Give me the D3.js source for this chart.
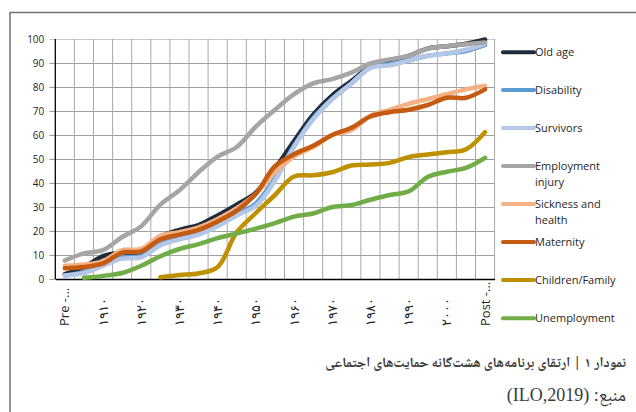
<!DOCTYPE html>
<html>
<head>
<meta charset="utf-8">
<script src="https://cdn.jsdelivr.net/npm/d3@7"></script>
<style>
  body { margin: 0; background: #fff; }
  .axisText { font-family: "Open Sans", "DejaVu Sans", sans-serif; fill: #262626; }
  .caption { font-family: "Noto Naskh Arabic", "Noto Sans Arabic", "DejaVu Sans", sans-serif; fill: #3a3a3a; }
</style>
</head>
<body>
<div class="chart"></div>
<script>
// categories (every second one is labelled on the axis)
var categories = ["Pre -...", "۱۹۰۵", "۱۹۱۰", "۱۹۱۵", "۱۹۲۰", "۱۹۲۵", "۱۹۳۰", "۱۹۳۵", "۱۹۴۰", "۱۹۴۵",
  "۱۹۵۰", "۱۹۵۵", "۱۹۶۰", "۱۹۶۵", "۱۹۷۰", "۱۹۷۵", "۱۹۸۰", "۱۹۸۵", "۱۹۹۰", "۱۹۹۵", "۲۰۰۰", "۲۰۰۵", "Post -..."];
var yTicks = [0, 10, 20, 30, 40, 50, 60, 70, 80, 90, 100];

var seriesNames = ["Old age", "Disability", "Survivors", "Employment injury",
  "Sickness and health", "Maternity", "Children/Family", "Unemployment"];
var seriesColors = ["#1f2b3a", "#5b9bd5", "#b4c7e7", "#a5a5a5", "#f4b183", "#c55a11", "#bf9000", "#70ad47"];

var oldAge       = [2, 5, 9.5, 11, 11, 17.5, 20.5, 22.5, 26.5, 31, 36, 46, 57.5, 68.5, 76.5, 82.5, 88.5, 91, 93, 96, 97, 98, 99.8];
var disability   = [1.5, 3, 6.5, 9, 9.5, 14.5, 17, 19, 22.5, 27, 31.5, 42, 55.5, 67, 75, 81.5, 88, 89.5, 91, 93, 94, 95, 97.5];
var survivors    = [1.5, 2.5, 5.5, 8.5, 9, 14, 16.5, 18.5, 22, 26.5, 30.5, 41, 55, 66.5, 75, 81.5, 88, 89, 91, 93, 94, 95.5, 98];
var employment   = [7.7, 10.7, 12, 17.5, 22, 31, 37, 44.5, 51, 55, 63.5, 70.5, 77, 81.5, 83.3, 86, 89.8, 91.5, 93, 96, 97, 97.8, 98.5];
var sickness     = [5.5, 6, 7.5, 12, 12.5, 18, 19.5, 21.5, 25, 29.5, 35.5, 44.5, 51, 55, 60, 62, 68, 70.5, 73, 75, 77, 79, 80.5];
var maternity    = [4.5, 5, 6.5, 11, 11.5, 16.5, 18.5, 20.5, 24, 28.5, 35.5, 47, 52, 55.5, 60, 63, 67.7, 69.5, 70.5, 72.5, 75.5, 75.5, 79];
var children     = [null, null, null, null, null, 0.7, 1.7, 2.3, 5, 19.5, 27.5, 35, 42.7, 43.2, 44.5, 47.3, 47.7, 48.4, 50.8, 51.9, 52.8, 54, 61.2];
var unemployment = [null, 0.5, 1.3, 2.5, 5.5, 9.5, 12.5, 14.5, 17, 19, 21, 23.3, 26, 27.3, 30, 30.8, 33, 35, 36.5, 42.5, 44.7, 46.3, 50.5];

var seriesValues = [oldAge, disability, survivors, employment, sickness, maternity, children, unemployment];

var svgWidth = 636;
var svgHeight = 412;
var plot = { left: 55.3, right: 494.6, top: 39, bottom: 279 };

var svg = d3.select(".chart")
  .append("svg")
  .attr("width", svgWidth)
  .attr("height", svgHeight);

// outer frame (only top and left edges fall inside the picture)
svg.append("path")
  .attr("d", "M10,412 V12.5 H636")
  .attr("fill", "none")
  .attr("stroke", "#707070")
  .attr("stroke-width", 1.5);

var xScale = d3.scaleBand()
  .domain(categories)
  .range([plot.left, plot.right])
  .padding(0);

var yScale = d3.scaleLinear()
  .domain([0, 100])
  .range([plot.bottom, plot.top]);

var xMid = c => xScale(c) + xScale.bandwidth() / 2;

// horizontal gridlines + y labels
var leftAxis = d3.axisLeft(yScale)
  .tickValues(yTicks)
  .tickSize(-(plot.right - plot.left + 6))
  .tickPadding(5);

var yAxisG = svg.append("g")
  .attr("transform", `translate(${plot.left - 6},0)`)
  .call(leftAxis);
yAxisG.select(".domain").remove();
yAxisG.selectAll("line")
  .attr("stroke", d => d === 100 ? "#c8c8c8" : "#a0a0a0");
yAxisG.selectAll("text")
  .attr("class", "axisText")
  .style("font-size", "10px");

// vertical gridlines between categories
svg.append("g")
  .selectAll("line")
  .data(categories)
  .enter()
  .append("line")
  .attr("x1", d => xScale(d) + xScale.bandwidth())
  .attr("x2", d => xScale(d) + xScale.bandwidth())
  .attr("y1", plot.top)
  .attr("y2", plot.bottom)
  .attr("stroke", "#a8a8a8")
  .attr("stroke-width", 1);

// axis lines
svg.append("line")
  .attr("x1", plot.left).attr("x2", plot.left)
  .attr("y1", plot.top).attr("y2", plot.bottom)
  .attr("stroke", "#000").attr("stroke-width", 1.3);

var bottomAxis = d3.axisBottom(xScale)
  .tickSize(0)
  .tickFormat((d, i) => i % 2 === 0 ? d : "");

var xAxisG = svg.append("g")
  .attr("transform", `translate(0,${plot.bottom})`)
  .call(bottomAxis);
xAxisG.select(".domain")
  .attr("stroke", "#000")
  .attr("stroke-width", 1.3);
xAxisG.selectAll("text")
  .attr("class", "axisText")
  .style("font-size", "13px")
  .attr("transform", "rotate(-90)")
  .attr("text-anchor", "start")
  .attr("x", -47)
  .attr("y", 0)
  .attr("dy", "0.35em");

// lines
var line = d3.line()
  .defined(d => d.v != null)
  .x(d => xMid(d.c))
  .y(d => yScale(d.v))
  .curve(d3.curveCatmullRom.alpha(0.5));

svg.append("g")
  .selectAll("path")
  .data(seriesValues)
  .enter()
  .append("path")
  .attr("d", vals => line(vals.map((v, i) => ({ c: categories[i], v: v }))))
  .attr("fill", "none")
  .attr("stroke", (d, i) => seriesColors[i])
  .attr("stroke-width", 4.5)
  .attr("stroke-linecap", "round")
  .attr("stroke-linejoin", "round");

// legend
var legendY = [52.3, 90, 128, 166, 204, 242, 280, 318.3];
var legend = svg.append("g")
  .selectAll("g")
  .data(seriesNames)
  .enter()
  .append("g")
  .attr("transform", (d, i) => `translate(503,${legendY[i]})`);

legend.append("line")
  .attr("x1", 0).attr("x2", 31)
  .attr("stroke", (d, i) => seriesColors[i])
  .attr("stroke-width", 4)
  .attr("stroke-linecap", "round");

legend.append("text")
  .attr("class", "axisText")
  .style("font-size", "11px")
  .attr("x", 32)
  .attr("y", 0)
  .attr("dy", "0.35em")
  .each(function (name) {
    // greedy word wrap
    var el = d3.select(this);
    var words = name.split(" ");
    var lines = [words[0]];
    for (var k = 1; k < words.length; k++) {
      var trial = lines[lines.length - 1] + " " + words[k];
      el.text(trial);
      if (this.getComputedTextLength() > 80) lines.push(words[k]);
      else lines[lines.length - 1] = trial;
    }
    el.text(null);
    lines.forEach(function (t, j) {
      el.append("tspan").attr("x", 32).attr("dy", j === 0 ? "0.35em" : "16.5px").text(t);
    });
  });

// caption
svg.append("text")
  .attr("class", "caption")
  .attr("direction", "rtl")
  .attr("text-anchor", "start")
  .attr("x", 626)
  .attr("y", 367)
  .style("font-size", "14px")
  .style("font-weight", "bold")
  .text("نمودار ۱ | ارتقای برنامه‌های هشت‌گانه حمایت‌های اجتماعی");

svg.append("text")
  .attr("class", "caption")
  .attr("direction", "rtl")
  .attr("text-anchor", "start")
  .attr("x", 626)
  .attr("y", 401)
  .style("font-family", "'Liberation Serif', 'Noto Naskh Arabic', 'DejaVu Sans', serif")
  .style("font-size", "18px")
  .text("منبع: (ILO,2019)");
</script>
</body>
</html>
